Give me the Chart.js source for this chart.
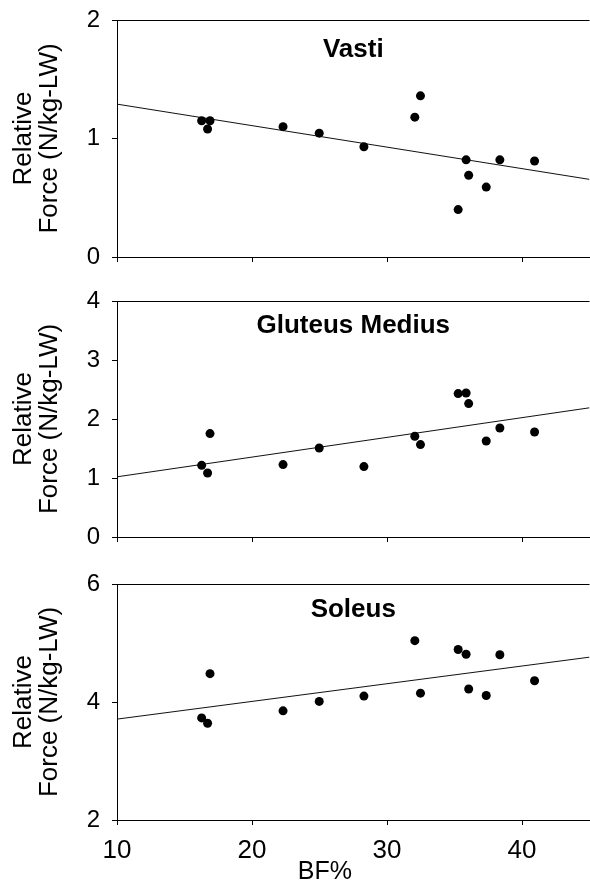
<!DOCTYPE html>
<html><head><meta charset="utf-8">
<script src="https://cdn.jsdelivr.net/npm/chart.js@4/dist/chart.umd.min.js"></script>
<style>
html,body{margin:0;padding:0;background:#fff;overflow:hidden;width:590px;height:881px;position:relative;}
canvas{position:absolute;left:0;display:block;}
</style></head><body>
<canvas id="c1" width="594" height="277" style="top:0;width:594px;height:277px"></canvas>
<canvas id="c2" width="594" height="276" style="top:281px;width:594px;height:276px"></canvas>
<canvas id="c3" width="594" height="317" style="top:564px;width:594px;height:317px"></canvas>
<script>
// ---- data ----
const bfPercent    = [16.27, 16.71, 16.89, 22.30, 24.98, 28.29, 32.06, 32.48, 35.27, 35.86, 36.05, 37.35, 38.36, 40.93];
const vastiForce   = [1.15, 1.08, 1.15, 1.10, 1.045, 0.93, 1.18, 1.36, 0.40, 0.82, 0.69, 0.59, 0.82, 0.81];
const gluteusForce = [1.215, 1.085, 1.753, 1.227, 1.508, 1.193, 1.707, 1.566, 2.431, 2.441, 2.261, 1.627, 1.847, 1.780];
const soleusForce  = [3.73, 3.64, 4.48, 3.85, 4.01, 4.10, 5.04, 4.15, 4.89, 4.81, 4.22, 4.11, 4.80, 4.36];
const trendX       = [10, 45];
const vastiTrend   = [1.29, 0.655];
const gluteusTrend = [1.02, 2.19];
const soleusTrend  = [3.71, 4.76];
const xTickValues  = [10, 20, 30, 40];
const vastiTicks   = [0, 1, 2];
const gluteusTicks = [0, 1, 2, 3, 4];
const soleusTicks  = [2, 4, 6];
const panelTitles  = ['Vasti', 'Gluteus Medius', 'Soleus'];
const yTitle       = ['Relative', 'Force (N/kg-LW)'];
const xTitle       = 'BF%';

const FONT = "'Liberation Sans', Arial, sans-serif";

const framePlugin = {
  id: 'frame',
  afterDraw(chart, args, opts) {
    const {ctx, chartArea: a} = chart;
    ctx.save();
    ctx.strokeStyle = '#000';
    ctx.lineWidth = 1;
    ctx.beginPath();
    ctx.moveTo(a.left, Math.round(a.top) + 0.5);
    ctx.lineTo(a.right, Math.round(a.top) + 0.5);
    ctx.stroke();
    ctx.fillStyle = '#000';
    ctx.font = 'bold 26px ' + FONT;
    ctx.textAlign = 'center';
    ctx.textBaseline = 'alphabetic';
    ctx.fillText(opts.title, (a.left + a.right) / 2, a.top + opts.titleOffset);
    if (opts.xTitle) {
      ctx.font = '25px ' + FONT;
      ctx.fillText(opts.xTitle, a.left + (a.right - a.left) * opts.xTitlePos, a.bottom + opts.xTitleOffset);
    }
    ctx.restore();
  }
};

function makeChart(id, yVals, trendVals, yMin, yMax, yTicks, title, titleOffset, showX, xH) {
  const pts = bfPercent.map((x, i) => ({x: x, y: yVals[i]}));
  const line = trendX.map((x, i) => ({x: x, y: trendVals[i]}));
  return new Chart(document.getElementById(id), {
    type: 'scatter',
    data: {
      datasets: [
        {data: line, showLine: true, borderColor: '#111', borderWidth: 1, pointRadius: 0, fill: false, order: 2},
        {data: pts, backgroundColor: '#000', borderWidth: 0, pointRadius: 4.5, order: 1}
      ]
    },
    options: {
      responsive: false,
      maintainAspectRatio: false,
      animation: false,
      devicePixelRatio: 1,
      events: [],
      layout: {padding: {top: 20, left: 0, right: 1, bottom: 0}},
      plugins: {
        legend: {display: false},
        tooltip: {enabled: false},
        frame: {title: title, titleOffset: titleOffset, xTitle: showX ? xTitle : null, xTitlePos: 0.44, xTitleOffset: 59}
      },
      scales: {
        x: {
          type: 'linear', min: 10, max: 45,
          afterBuildTicks: s => { s.ticks = xTickValues.map(v => ({value: v})); },
          afterFit: s => { s.height = xH; },
          grid: {drawOnChartArea: false, drawTicks: true, tickLength: 5, color: '#000'},
          border: {display: true, color: '#000', width: 1},
          ticks: {display: showX, color: '#000', font: {family: FONT, size: 26}, padding: 10, maxRotation: 0}
        },
        y: {
          type: 'linear', min: yMin, max: yMax,
          afterBuildTicks: s => { s.ticks = yTicks.map(v => ({value: v})); },
          afterFit: s => { s.width = 117; },
          grid: {drawOnChartArea: false, drawTicks: true, tickLength: 5, color: '#000'},
          border: {display: true, color: '#000', width: 1},
          ticks: {color: '#000', font: {family: FONT, size: 24, lineHeight: 0.6}, padding: 12},
          title: {display: true, text: yTitle, color: '#000', font: {family: FONT, size: 26, lineHeight: 1.0}, padding: {top: 11, bottom: 0}}
        }
      }
    },
    plugins: [framePlugin]
  });
}

makeChart('c1', vastiForce, vastiTrend, 0, 2, vastiTicks, panelTitles[0], 36.5, false, 20);
makeChart('c2', gluteusForce, gluteusTrend, 0, 4, gluteusTicks, panelTitles[1], 32, false, 20);
makeChart('c3', soleusForce, soleusTrend, 2, 6, soleusTicks, panelTitles[2], 32.5, true, 61);
</script>
</body></html>
